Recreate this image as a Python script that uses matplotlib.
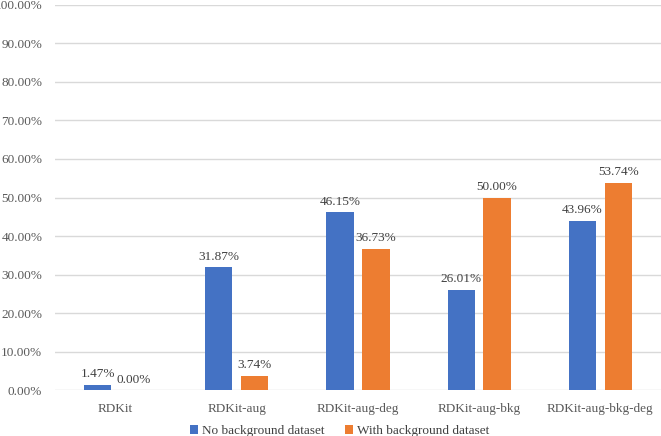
import numpy as np
import matplotlib.pyplot as plt
from matplotlib.ticker import FuncFormatter

categories = ["RDKit", "RDKit-aug", "RDKit-aug-deg", "RDKit-aug-bkg", "RDKit-aug-bkg-deg"]
no_bkg = [1.47, 31.87, 46.15, 26.01, 43.96]
with_bkg = [0.00, 3.74, 36.73, 50.00, 53.74]
series_names = ["No background dataset", "With background dataset"]

plt.rcParams['font.family'] = ['Liberation Serif', 'DejaVu Serif']

fig = plt.figure(figsize=(6.61, 4.36), dpi=100)
ax = fig.add_axes([0.083, 0.105, 0.917, 0.884])

x = np.arange(len(categories))
w = 0.225
off = 0.148
b1 = ax.bar(x - off, no_bkg, w, color='#4472C4', label=series_names[0], zorder=3)
b2 = ax.bar(x + off, with_bkg, w, color='#ED7D31', label=series_names[1], zorder=3)

for bars, vals in ((b1, no_bkg), (b2, with_bkg)):
    for r, v in zip(bars, vals):
        ax.text(r.get_x() + r.get_width() / 2, v + 1.2, f"{v:.2f}%",
                ha='center', va='bottom', fontsize=9.5, color='#404040')

ax.set_xlim(-0.5, len(categories) - 0.5)
ax.set_ylim(0, 100)
ax.set_yticks(np.arange(0, 101, 10))
ax.yaxis.set_major_formatter(FuncFormatter(lambda v, p: f"{v:.2f}%"))
ax.set_xticks(x)
ax.set_xticklabels(categories)
ax.tick_params(length=0, labelsize=9.5, colors='#595959', pad=9)
ax.grid(axis='y', color='#D9D9D9', linewidth=1, zorder=0)
for s in ax.spines.values():
    s.set_visible(False)

ax.legend(loc='lower center', bbox_to_anchor=(0.47, -0.135), ncol=2, frameon=False,
          fontsize=9.5, handlelength=0.6, handleheight=0.6, handletextpad=0.3,
          columnspacing=1.6, labelcolor='#404040', borderaxespad=0)

fig.savefig('out.png', dpi=100)
